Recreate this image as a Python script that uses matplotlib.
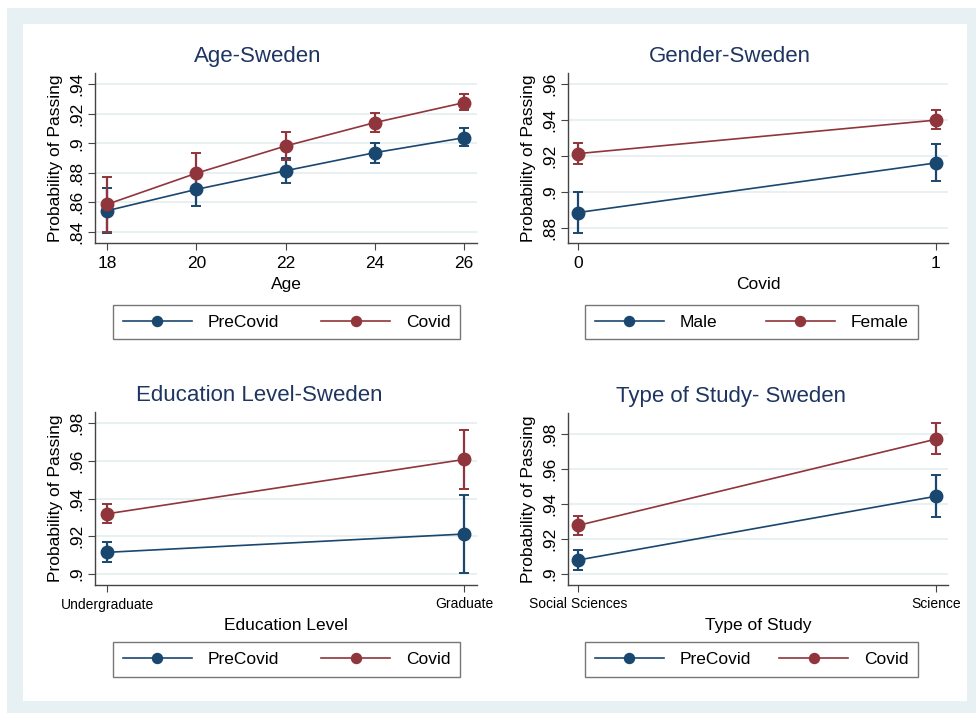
import matplotlib
matplotlib.use("Agg")
import matplotlib.pyplot as plt
from matplotlib.patches import Rectangle
from matplotlib.ticker import FuncFormatter

plt.rcParams['font.family'] = ['Liberation Sans', 'DejaVu Sans']

BLUE = '#1a476f'
RED = '#90353b'
TITLE_C = '#1e3560'
GRID_C = '#e6eff1'

# ---------------- data ----------------
age_x = [18, 20, 22, 24, 26]
age_pre = [0.8544, 0.8688, 0.8814, 0.8936, 0.9037]
age_pre_lo = [0.8395, 0.8576, 0.8729, 0.8864, 0.8981]
age_pre_hi = [0.8695, 0.8790, 0.8898, 0.9003, 0.9101]
age_cov = [0.8587, 0.8797, 0.8981, 0.9139, 0.9274]
age_cov_lo = [0.8400, 0.8662, 0.8888, 0.9076, 0.9224]
age_cov_hi = [0.8774, 0.8932, 0.9074, 0.9206, 0.9330]

gen_x = [0, 1]
gen_male = [0.8884, 0.9161]
gen_male_lo = [0.8772, 0.9061]
gen_male_hi = [0.8996, 0.9264]
gen_female = [0.9213, 0.9400]
gen_female_lo = [0.9154, 0.9348]
gen_female_hi = [0.9270, 0.9456]

edu_labels = ['Undergraduate', 'Graduate']
edu_pre = [0.9115, 0.9212]
edu_pre_lo = [0.9062, 0.9005]
edu_pre_hi = [0.9168, 0.9420]
edu_cov = [0.9319, 0.9607]
edu_cov_lo = [0.9268, 0.9448]
edu_cov_hi = [0.9369, 0.9765]

study_labels = ['Social Sciences', 'Science']
study_pre = [0.9080, 0.9443]
study_pre_lo = [0.9023, 0.9324]
study_pre_hi = [0.9135, 0.9564]
study_cov = [0.9277, 0.9768]
study_cov_lo = [0.9222, 0.9682]
study_cov_hi = [0.9330, 0.9859]

W, H = 976, 713
fig = plt.figure(figsize=(W / 100, H / 100), dpi=100)
fig.patch.set_facecolor('white')

def px_rect(x0, y0, x1, y1, **kw):
    fig.add_artist(Rectangle((x0 / W, 1 - y1 / H), (x1 - x0) / W, (y1 - y0) / H,
                             transform=fig.transFigure, zorder=-10, **kw))

px_rect(7, 8, 976, 713, facecolor='#e7f0f2', edgecolor='none')
px_rect(23, 24, 967, 701, facecolor='white', edgecolor='none')

def ax_at(x0, y0, x1, y1):
    return fig.add_axes([x0 / W, 1 - y1 / H, (x1 - x0) / W, (y1 - y0) / H])

def fmt(v, pos):
    s = f"{v:.2f}"
    if s.startswith('0'):
        s = s[1:]
    s = s.rstrip('0')
    return s

def panel(ax, x, s1, s1lo, s1hi, s2, s2lo, s2hi, lab1, lab2, title, xlabel,
          yticks, ylim, xlim, xticklabels=None, xtick_fs=12.5, legbox=None, title_x=0.426):
    for y, lo, hi, c, lab in [(s1, s1lo, s1hi, BLUE, lab1), (s2, s2lo, s2hi, RED, lab2)]:
        yerr = [[a - b for a, b in zip(y, lo)], [b - a for a, b in zip(y, hi)]]
        ax.errorbar(x, y, yerr=yerr, color=c, ecolor=c, elinewidth=1.6, capsize=3.5,
                    capthick=1.4, fmt='none', zorder=3)
        ax.plot(x, y, color=c, lw=1.2, marker='o', markersize=9, label=lab, zorder=4)
    ax.set_ylim(*ylim)
    ax.set_xlim(*xlim)
    ax.set_yticks(yticks)
    ax.yaxis.set_major_formatter(FuncFormatter(fmt))
    ax.set_xticks(x)
    if xticklabels is not None:
        ax.set_xticklabels(xticklabels)
    ax.grid(axis='y', color=GRID_C, lw=1.3, zorder=0)
    ax.set_axisbelow(True)
    for sp in ['top', 'right']:
        ax.spines[sp].set_visible(False)
    for sp in ['left', 'bottom']:
        ax.spines[sp].set_color('#444444')
        ax.spines[sp].set_linewidth(1.0)
    ax.tick_params(axis='y', labelrotation=90, labelsize=12.5, length=5, color='#444444', pad=3)
    ax.tick_params(axis='x', labelsize=xtick_fs, length=5, color='#444444', pad=4)
    for lab in ax.get_yticklabels():
        lab.set_va('center')
    ax.set_title(title, fontsize=16, color=TITLE_C, pad=8, x=title_x)
    ax.set_xlabel(xlabel, fontsize=12.5, labelpad=5)
    ax.set_ylabel('Probability of Passing', fontsize=12.5, labelpad=4)
    # legend
    x0, y0, x1, y1 = legbox
    leg = ax.legend(loc='center', bbox_to_anchor=(x0 / W, 1 - y1 / H, (x1 - x0) / W, (y1 - y0) / H),
                    bbox_transform=fig.transFigure, ncol=2, mode='expand', fontsize=12.5,
                    frameon=True, fancybox=False, handlelength=4.0, handletextpad=0.9,
                    columnspacing=2.0, borderaxespad=0, borderpad=0.55, markerscale=0.8)
    leg.get_frame().set_edgecolor('#555555')
    leg.get_frame().set_linewidth(1.0)

ax1 = ax_at(95, 73, 477, 243)
panel(ax1, age_x, age_pre, age_pre_lo, age_pre_hi, age_cov, age_cov_lo, age_cov_hi,
      'PreCovid', 'Covid', 'Age-Sweden', 'Age',
      [0.84, 0.86, 0.88, 0.90, 0.92, 0.94], (0.8326, 0.9474), (17.73, 26.29),
      legbox=(113, 306, 460, 338), title_x=(258 - 95) / 382)

ax2 = ax_at(568, 73, 948, 243)
panel(ax2, gen_x, gen_male, gen_male_lo, gen_male_hi, gen_female, gen_female_lo, gen_female_hi,
      'Male', 'Female', 'Gender-Sweden', 'Covid',
      [0.88, 0.90, 0.92, 0.94, 0.96], (0.8714, 0.9663), (-0.028, 1.034),
      legbox=(585, 306, 918, 338), title_x=(730 - 568) / 380)

ax3 = ax_at(95, 412, 477, 585)
panel(ax3, [0, 1], edu_pre, edu_pre_lo, edu_pre_hi, edu_cov, edu_cov_lo, edu_cov_hi,
      'PreCovid', 'Covid', 'Education Level-Sweden', 'Education Level',
      [0.90, 0.92, 0.94, 0.96, 0.98], (0.8942, 0.9858), (-0.034, 1.035),
      xticklabels=edu_labels, xtick_fs=10, legbox=(113, 643, 460, 676),
      title_x=(259 - 95) / 382)

ax4 = ax_at(568, 413, 948, 585)
panel(ax4, [0, 1], study_pre, study_pre_lo, study_pre_hi, study_cov, study_cov_lo, study_cov_hi,
      'PreCovid', 'Covid', 'Type of Study- Sweden', 'Type of Study',
      [0.90, 0.92, 0.94, 0.96, 0.98], (0.8938, 0.9917), (-0.028, 1.034),
      xticklabels=study_labels, xtick_fs=10, legbox=(585, 643, 918, 676),
      title_x=(731 - 568) / 380)

fig.savefig('out.png', dpi=100, facecolor=fig.get_facecolor())
